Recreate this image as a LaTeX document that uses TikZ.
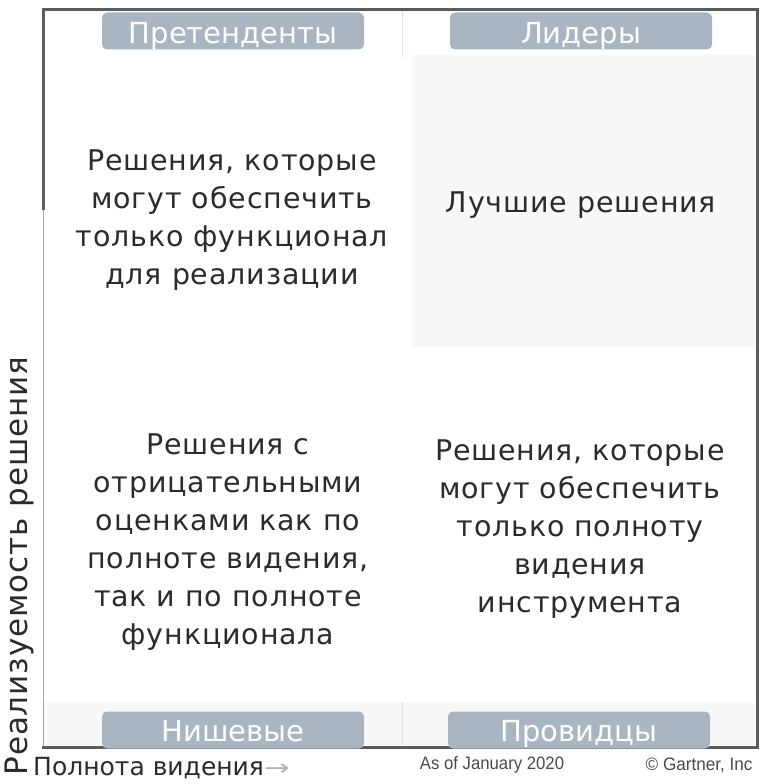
\documentclass[tikz,border=0pt]{standalone}
\usepackage{fontspec}
\setmainfont{DejaVu Sans}
\newfontfamily\widefont{DejaVu Sans}[LetterSpace=3]
\newfontfamily\narrowfont{Liberation Sans}
\usetikzlibrary{positioning}
\definecolor{tagblue}{HTML}{A9B6C1}
\definecolor{framegray}{HTML}{5C5C5C}
\definecolor{lightfill}{HTML}{F8F8F9}
\definecolor{textgray}{HTML}{2B2B2B}
\begin{document}
\begin{tikzpicture}[x=1pt,y=-1pt,
tag/.style={fill=tagblue,rounded corners=5pt,text=white,minimum width=262pt,minimum height=37pt,inner sep=0pt,text height=26pt,text depth=0pt,font=\fontsize{29}{29}\selectfont},
lowtag/.style={tag,text height=22pt},
quad/.style={align=center,text=textgray,font=\widefont\fontsize{28.5}{38}\selectfont},
note/.style={text=textgray!85,font=\narrowfont\fontsize{18}{18}\selectfont}]
\useasboundingbox (0,0) rectangle (768,784);
% shading of the quadrants
\fill[lightfill] (412,55) rectangle (755,347);
\fill[lightfill] (44,702) rectangle (755,745);
% divider
\draw[gray!25,line width=1pt] (402,10) -- (402,57);
\draw[gray!25,line width=1pt] (402,702) -- (402,745);
% frame
\draw[gray!70,line width=1pt] (43,210) -- (43,747);
\draw[framegray,line width=3pt] (43,210) -- (43,10) -- (757,10) -- (757,747) -- (42,747);
% quadrant labels
\node[tag](chal) at (233,31){Претенденты};
\node[tag](lead) at (581,31){Лидеры};
\node[lowtag](niche) at (233,730){Нишевые};
\node[lowtag](vis) at (579,730){Провидцы};
% quadrant texts
\node[quad](chaltxt) at (232,220){Решения, которые\\могут обеспечить\\только функционал\\для реализации};
\node[quad](leadtxt) at (581,205){Лучшие решения};
\node[quad](nichetxt) at (228,542){Решения с\\отрицательными\\оценками как по\\полноте видения,\\так и по полноте\\функционала};
\node[quad](vistxt) at (580,529){Решения, которые\\могут обеспечить\\только полноту\\видения\\инструмента};
% axes
\node[rotate=90,text=textgray,font=\widefont\fontsize{31}{31}\selectfont](yax) at (19,566){Реализуемость решения};
\node[anchor=west,text=textgray,font=\fontsize{25}{25}\selectfont,inner sep=0pt](xax) at (33,768){Полнота видения\textcolor{gray!60}{\fontsize{22}{22}\selectfont\scalebox{1.4}[1]{→}}};
\node[note](asof) at (492,765){\scalebox{0.93}[1]{As of January 2020}};
\node[note](gart) at (699,765){\scalebox{0.95}[1]{© Gartner, Inc}};
\end{tikzpicture}
\end{document}
